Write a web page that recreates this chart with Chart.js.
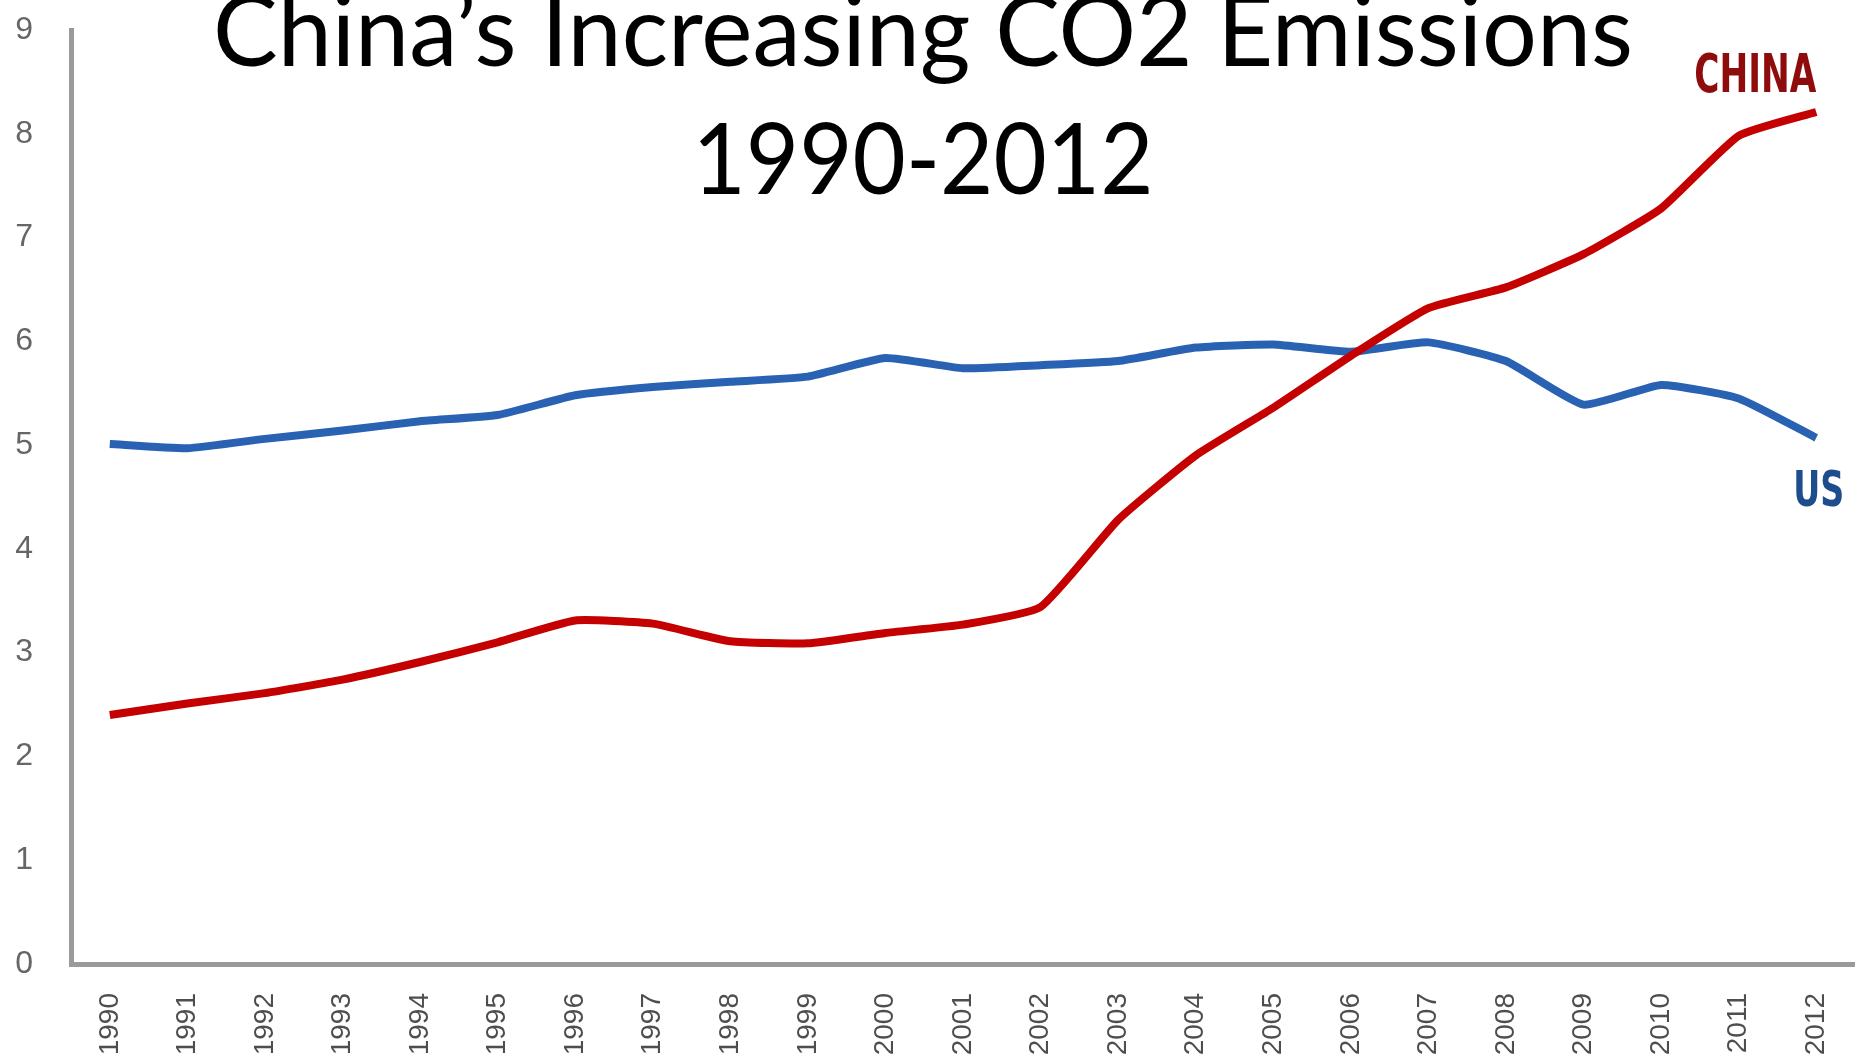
<!DOCTYPE html>
<html>
<head>
<meta charset="utf-8">
<title>China's Increasing CO2 Emissions</title>
<script src="https://cdn.jsdelivr.net/npm/chart.js@4/dist/chart.umd.min.js"></script>
<style>
  html, body { margin: 0; padding: 0; background: #fff; overflow: hidden; }
  #co2Chart { display: block; }
</style>
</head>
<body>
<canvas id="co2Chart" width="1855" height="1060"></canvas>
<script>
// Emissions, billion tonnes CO2
const years = ['1990','1991','1992','1993','1994','1995','1996','1997','1998','1999','2000',
               '2001','2002','2003','2004','2005','2006','2007','2008','2009','2010','2011','2012'];
const chinaValues = [2.40, 2.51, 2.61, 2.74, 2.91, 3.10, 3.31, 3.28, 3.11, 3.09, 3.19,
                     3.27, 3.44, 4.28, 4.90, 5.36, 5.86, 6.32, 6.52, 6.84, 7.28, 7.98, 8.21];
const usValues    = [5.01, 4.97, 5.06, 5.14, 5.23, 5.29, 5.48, 5.56, 5.61, 5.66, 5.84,
                     5.74, 5.77, 5.81, 5.94, 5.97, 5.90, 5.99, 5.81, 5.39, 5.58, 5.45, 5.07];
const yTicks = [0, 1, 2, 3, 4, 5, 6, 7, 8, 9];
const titleLines = ['China\u2019s Increasing CO2 Emissions', '1990-2012'];

// Title text sits on top of the plot, not above it
const titlePlugin = {
  id: 'overlayTitle',
  afterDraw(chart) {
    const ctx = chart.ctx;
    ctx.save();
    ctx.fillStyle = '#000';
    ctx.textAlign = 'center';
    ctx.textBaseline = 'alphabetic';
    ctx.font = '98px Lato, "Open Sans", sans-serif';
    ctx.fillText(titleLines[0], 923, 66, 1420);
    ctx.fillText(titleLines[1], 923, 194, 461);
    ctx.restore();
  }
};

// Name each line next to its last point
const endLabels = {
  id: 'endLabels',
  afterDatasetsDraw(chart) {
    const ctx = chart.ctx;
    const china = chart.getDatasetMeta(0).data;
    const us = chart.getDatasetMeta(1).data;
    const c = china[china.length - 1], u = us[us.length - 1];
    ctx.save();
    ctx.textBaseline = 'alphabetic';

    ctx.font = 'bold 54px "Liberation Sans Narrow", "DejaVu Sans Condensed", sans-serif';
    ctx.fillStyle = '#8e0c0c';
    ctx.textAlign = 'right';
    ctx.fillText('CHINA', c.x, c.y - 20, 122);

    ctx.font = 'bold 50px "Liberation Sans Narrow", "DejaVu Sans Condensed", sans-serif';
    ctx.fillStyle = '#1d4d8c';
    ctx.textAlign = 'left';
    ctx.fillText('US', u.x - 23, u.y + 68, 51);
    ctx.restore();
  }
};

new Chart(document.getElementById('co2Chart'), {
  type: 'line',
  data: {
    labels: years,
    datasets: [
      {
        label: 'China',
        data: chinaValues,
        borderColor: '#c40000',
        borderWidth: 8,
        pointRadius: 0,
        tension: 0.15,
        borderJoinStyle: 'round'
      },
      {
        label: 'US',
        data: usValues,
        borderColor: '#2962b3',
        borderWidth: 8,
        pointRadius: 0,
        tension: 0.15,
        borderJoinStyle: 'round'
      }
    ]
  },
  options: {
    responsive: false,
    animation: false,
    devicePixelRatio: 1,
    layout: { padding: { top: 30, right: -12, left: 0, bottom: 0 } },
    plugins: {
      legend: { display: false },
      title: { display: false },
      tooltip: { enabled: false }
    },
    scales: {
      x: {
        offset: true,
        grid: { display: false, drawTicks: false },
        border: { display: true, color: '#9a9a9a', width: 5 },
        ticks: {
          autoSkip: false,
          minRotation: 90,
          maxRotation: 90,
          padding: 29,
          color: '#4e4e4e',
          font: { family: '"Liberation Sans", Arial, sans-serif', size: 28 }
        },
        afterFit(scale) {
          scale.height = 96;
          scale.paddingLeft = 0;
          scale.paddingRight = 0;
        }
      },
      y: {
        min: 0,
        max: 9,
        grid: { display: false, drawTicks: false },
        border: { display: true, color: '#9a9a9a', width: 5 },
        afterBuildTicks(scale) { scale.ticks = yTicks.map(v => ({ value: v })); },
        ticks: {
          padding: 38,
          color: '#666',
          font: { family: '"Liberation Sans", Arial, sans-serif', size: 32 }
        },
        afterFit(scale) {
          scale.width = 71;
          scale.paddingTop = 0;
          scale.paddingBottom = 0;
        }
      }
    }
  },
  plugins: [titlePlugin, endLabels]
});
</script>
</body>
</html>
